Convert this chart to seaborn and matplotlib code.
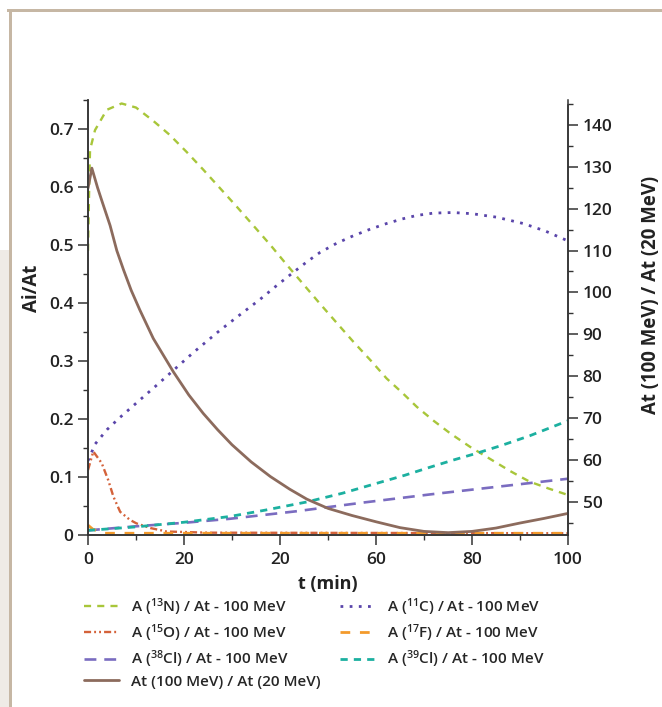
import matplotlib
matplotlib.use("Agg")
import matplotlib.pyplot as plt
from matplotlib.patches import Rectangle
from matplotlib.ticker import MultipleLocator, FixedLocator, FixedFormatter
import seaborn as sns
import pandas as pd

# ratios of activities vs time (left axis)
t_n13 = [0, 0.2, 0.42, 1.46, 3.9, 7, 10, 13.6, 17, 20.6, 24, 27.5, 31, 34.4, 38, 41.4, 45, 48.3, 52,
         55.3, 59, 62.2, 65.5, 68.5, 72, 75.5, 79.6, 84, 88, 92, 96, 100]
a_n13 = [0.49, 0.58, 0.664, 0.698, 0.733, 0.744, 0.737, 0.714, 0.69, 0.66, 0.63, 0.598, 0.566, 0.534, 0.5, 0.466,
         0.431, 0.399, 0.364, 0.333, 0.3, 0.27, 0.245, 0.221, 0.197, 0.175, 0.152, 0.13, 0.11, 0.092, 0.08, 0.069]

t_c11 = [0, 1.5, 4, 6.7, 10, 14, 17.8, 22, 27.5, 31.7, 35.8, 39.3, 42.8, 45.6, 48.3, 51.8, 55.3, 58.7,
         62.2, 65.5, 68.5, 72, 76, 80, 85.1, 90.7, 95.3, 100]
a_c11 = [0.128, 0.157, 0.182, 0.203, 0.227, 0.256, 0.284, 0.315, 0.353, 0.38, 0.406, 0.43, 0.453, 0.471, 0.487,
         0.503, 0.516, 0.527, 0.537, 0.545, 0.551, 0.555, 0.556, 0.554, 0.548, 0.537, 0.524, 0.507]

t_o15 = [0, 1.1, 2.85, 4.2, 5.3, 6.7, 8.75, 10.1, 13, 16.4, 25, 100]
a_o15 = [0.112, 0.144, 0.124, 0.095, 0.066, 0.04, 0.026, 0.02, 0.012, 0.006, 0.004, 0.003]

t_f17 = [0, 1, 2.2, 3, 100]
a_f17 = [0.017, 0.01, 0.006, 0.003, 0.003]

t_cl38 = [0, 10, 20, 29.6, 43.5, 57.4, 71.3, 85.1, 100]
a_cl38 = [0.008, 0.015, 0.021, 0.028, 0.041, 0.056, 0.07, 0.083, 0.097]

t_cl39 = [0, 10, 20, 29.6, 37, 45.6, 53, 60.1, 66, 71.3, 76, 81, 86, 92, 96, 100]
a_cl39 = [0.008, 0.014, 0.022, 0.032, 0.043, 0.057, 0.072, 0.089, 0.103, 0.117, 0.129, 0.141, 0.154, 0.171, 0.184, 0.197]

# At(100 MeV) / At(20 MeV) (right axis)
t_ratio = [0, 0.8, 2, 3, 4.6, 6, 7.4, 9, 10.8, 13.6, 17.8, 21, 24, 27, 30, 34, 38, 42, 45.6, 50, 55,
           60, 65, 70, 75, 80, 85, 90, 95, 100]
ratio = [124.9, 129.7, 125, 121.5, 116, 110, 105.4, 100.5, 95.8, 89.0, 81.0, 75.5, 71.1, 67.2, 63.6, 59.5,
         56, 53, 50.6, 48.4, 46.7, 45.2, 43.8, 42.9, 42.6, 42.9, 43.7, 44.9, 46.0, 47.2]

x_ticks = [0, 20, 40, 60, 80, 100]
x_ticklabels = ["0", "20", "20", "60", "80", "100"]
y_ticks = [0, 0.1, 0.2, 0.3, 0.4, 0.5, 0.6, 0.7]
y_ticklabels = ["0", "0.1", "0.2", "0.3", "0.4", "0.5", "0.6", "0.7"]

sns.set_style("ticks")
plt.rcParams["font.family"] = ["Open Sans", "DejaVu Sans"]
plt.rcParams["mathtext.fontset"] = "custom"
plt.rcParams["mathtext.rm"] = "Open Sans:semibold"
plt.rcParams["mathtext.default"] = "rm"

fig = plt.figure(figsize=(6.62, 7.07), dpi=100)

# page decoration (frame lines and grey margin)
fig.patches.append(Rectangle((0, 0), 9.3 / 662, 1 - 250 / 707, transform=fig.transFigure,
                             facecolor="#efebe6", edgecolor="none", zorder=0))
fig.patches.append(Rectangle((9.3 / 662, 0), 2.7 / 662, 1 - 9 / 707, transform=fig.transFigure,
                             facecolor="#c6b7a4", edgecolor="none", zorder=0))
fig.patches.append(Rectangle((7.3 / 662, 1 - 11.7 / 707), 1, 2.7 / 707, transform=fig.transFigure,
                             facecolor="#c6b7a4", edgecolor="none", zorder=0))

ax = fig.add_axes([88 / 662, 1 - 535 / 707, 480 / 662, 435 / 707])
ax.patch.set_alpha(0)
ax2 = ax.twinx()

series = [
    (t_n13, a_n13, "#a8c63a", (0, (3, 2.6)), 1.7, r"A ($^{13}$N) / At - 100 MeV"),
    (t_o15, a_o15, "#d4623a", (0, (3, 1.3, 0.8, 1.3, 0.8, 1.3)), 1.7, r"A ($^{15}$O) / At - 100 MeV"),
    (t_cl38, a_cl38, "#7a6cc0", (0, (4.5, 3)), 1.9, r"A ($^{38}$Cl) / At - 100 MeV"),
    (t_c11, a_c11, "#5a45aa", (0, (1, 2.3)), 2.0, r"A ($^{11}$C) / At - 100 MeV"),
    (t_f17, a_f17, "#f39a2c", (0, (3.5, 3.5)), 2.0, r"A ($^{17}$F) / At - 100 MeV"),
    (t_cl39, a_cl39, "#1cb0a0", (0, (2.6, 2.2)), 2.0, r"A ($^{39}$Cl) / At - 100 MeV"),
]

handles = []
for tt, vv, col, ls, lw, lab in series:
    df = pd.DataFrame({"t": tt, "v": vv})
    sns.lineplot(data=df, x="t", y="v", ax=ax, color=col, linewidth=lw, sort=False, legend=False)
    line = ax.lines[-1]
    line.set_linestyle(ls)
    line.set_label(lab)
    handles.append(line)

df_r = pd.DataFrame({"t": t_ratio, "r": ratio})
sns.lineplot(data=df_r, x="t", y="r", ax=ax2, color="#8c6b5d", linewidth=2.0, sort=False, legend=False)
brown = ax2.lines[-1]
brown.set_label("At (100 MeV) / At (20 MeV)")

ax.set_xlim(0, 100)
ax.set_ylim(0, 0.75)
ax2.set_ylim(42.04, 140 + 25 / 4.185)

ax.xaxis.set_major_locator(FixedLocator(x_ticks))
ax.xaxis.set_major_formatter(FixedFormatter(x_ticklabels))
ax.xaxis.set_minor_locator(MultipleLocator(10))
ax.yaxis.set_major_locator(FixedLocator(y_ticks))
ax.yaxis.set_major_formatter(FixedFormatter(y_ticklabels))
ax.yaxis.set_minor_locator(MultipleLocator(0.05))
ax2.yaxis.set_major_locator(MultipleLocator(10))
ax2.yaxis.set_minor_locator(MultipleLocator(5))

for a in (ax, ax2):
    a.tick_params(which="major", length=7, width=1.1, color="#333333", pad=3.5)
    a.tick_params(which="minor", length=3.6, width=1.0, color="#333333")
    for lbl in a.get_xticklabels() + a.get_yticklabels():
        lbl.set_fontsize(12.5)
        lbl.set_fontweight("semibold")
        lbl.set_color("#222222")
    for s in a.spines.values():
        s.set_linewidth(1.1)
        s.set_color("#333333")
ax.tick_params(axis="x", which="major", pad=5.5)

ax.spines["top"].set_visible(False)
ax2.spines["top"].set_visible(False)
ax2.spines["right"].set_bounds(42.04, 144.8)

ax.set_xlabel("t (min)", fontsize=13, fontweight="bold", color="#222222", labelpad=5)
ax.set_ylabel("Ai/At", fontsize=13.5, fontweight="bold", color="#222222")
ax.yaxis.set_label_coords(-0.096, 0.566)
ax2.set_ylabel("At (100 MeV) / At (20 MeV)", fontsize=13.4, fontweight="bold", color="#222222")
ax2.yaxis.set_label_coords(1.152, 0.552)

leg_handles = handles[:3] + [brown] + handles[3:]
fig.legend(handles=leg_handles, labels=[h.get_label() for h in leg_handles],
           loc="upper left", bbox_to_anchor=(84 / 662, 1 - 596 / 707), ncol=2,
           frameon=False, prop={"weight": "semibold", "size": 11},
           handlelength=2.3, handletextpad=0.76, columnspacing=1.3,
           labelspacing=0.3, borderpad=0, borderaxespad=0)

fig.savefig("out.png", dpi=100)
